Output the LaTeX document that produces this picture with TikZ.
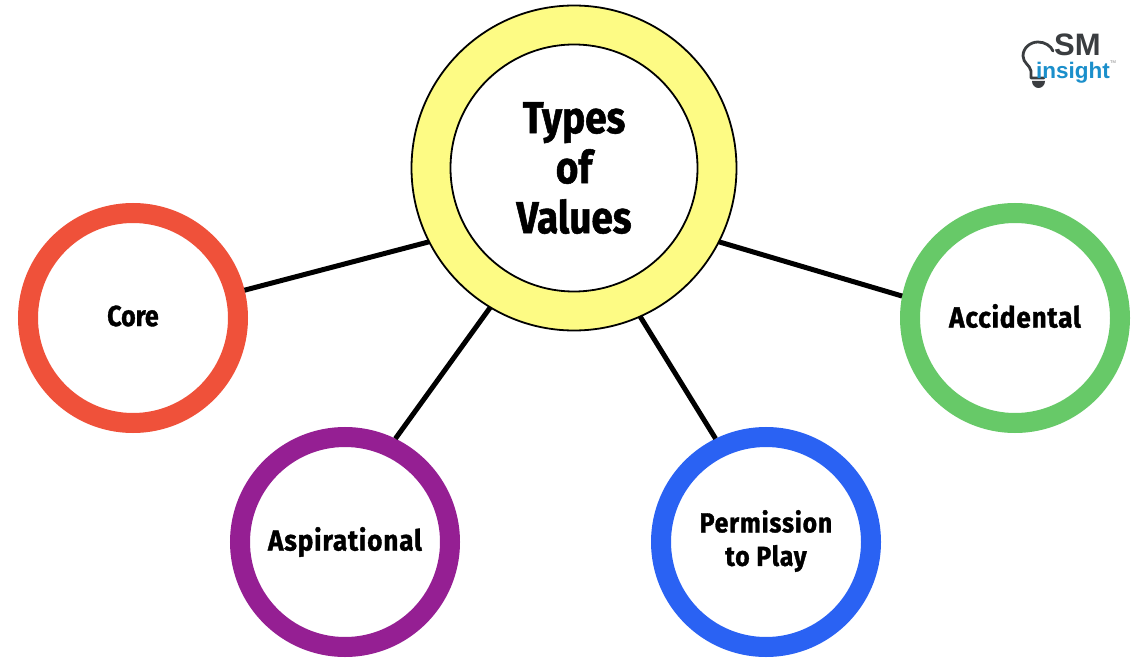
\documentclass[tikz,border=0pt]{standalone}
\usepackage{fontspec}
\setmainfont{Fira Sans}
\newfontfamily\hand[FakeStretch=0.86,FakeBold=1.2]{Fira Sans}
\newfontfamily\handw[FakeStretch=0.9,FakeBold=1.2,LetterSpace=3]{Fira Sans}
\newfontfamily\logof{Liberation Sans}
\begin{document}
\begin{tikzpicture}[x=1pt,y=-1pt,
  ringc/.style={circle,draw=#1,line width=20pt,fill=white,minimum size=210pt,inner sep=0pt,outer sep=10pt},
  labelw/.style={font=\handw\bfseries\fontsize{#1}{33.5}\selectfont,inner sep=0pt,align=center},
  link/.style={line width=5pt,draw=black}]
\definecolor{cyel}{HTML}{FDFB84}
\definecolor{cred}{HTML}{EF513A}
\definecolor{cpur}{HTML}{951F93}
\definecolor{cblu}{HTML}{2A62F3}
\definecolor{cgrn}{HTML}{67C968}
\definecolor{cdk}{HTML}{3A3D40}
\definecolor{clb}{HTML}{1B8FCB}
\useasboundingbox (0,0) rectangle (1138,671);
\fill[white] (0,0) rectangle (1138,671);
\node[circle,draw=black,line width=1.8pt,fill=cyel,minimum size=325pt,inner sep=0pt,outer sep=0pt] (hub) at (574,168) {};
\node[circle,draw=black,line width=1.8pt,fill=white,minimum size=247pt,inner sep=0pt,align=center,font=\hand\bfseries\fontsize{45}{50}\selectfont] (hubin) at (574,168) {Types\\of\\Values};
\node[ringc=cred] (core) at (133,318) {};
\node[ringc=cpur] (asp) at (345,542) {};
\node[ringc=cblu] (perm) at (766,542) {};
\node[ringc=cgrn] (acc) at (1015,318) {};
\node[font=\hand\bfseries\fontsize{29}{33.5}\selectfont,inner sep=0pt] (corel) at (133,316) {Core};
\node[labelw=29] (aspl) at (345,542) {Aspirational};
\node[labelw=27.5] (perml) at (766,541) {Permission\\to Play};
\node[labelw=29] (accl) at (1015,316) {Accidental};
\draw[link] (hub.207.7) -- (core.14);
\draw[link] (hub.239) -- (asp.64);
\draw[link] (hub.294) -- (perm.116);
\draw[link] (hub.333.4) -- (acc.169);
% logo
\draw[cdk,line width=2.8pt,line cap=round,line join=round] (1044,78) -- (1031,78) -- (1031,71) .. controls (1030,65) and (1023,63) .. (1023,56) .. controls (1023,48) and (1030,42) .. (1038,42) .. controls (1045,42) and (1051,46) .. (1053,51);
\fill[cdk] (1032,81) -- (1045,81) .. controls (1045,85) and (1042,88) .. (1038.5,88) .. controls (1035,88) and (1032,85) .. (1032,81) -- cycle;
\node[anchor=base west,inner sep=0pt,text=cdk,font=\logof\bfseries\fontsize{31}{31}\selectfont] (smt) at (1054,56) {SM};
\node[anchor=base west,inner sep=0pt,text=clb,font=\logof\bfseries\fontsize{22.5}{23}\selectfont] (ins) at (1036,79) {insight};
\node[anchor=base west,inner sep=0pt,text=gray,font=\logof\fontsize{4}{4}\selectfont] (tm) at (1110,64) {TM};
\end{tikzpicture}
\end{document}
